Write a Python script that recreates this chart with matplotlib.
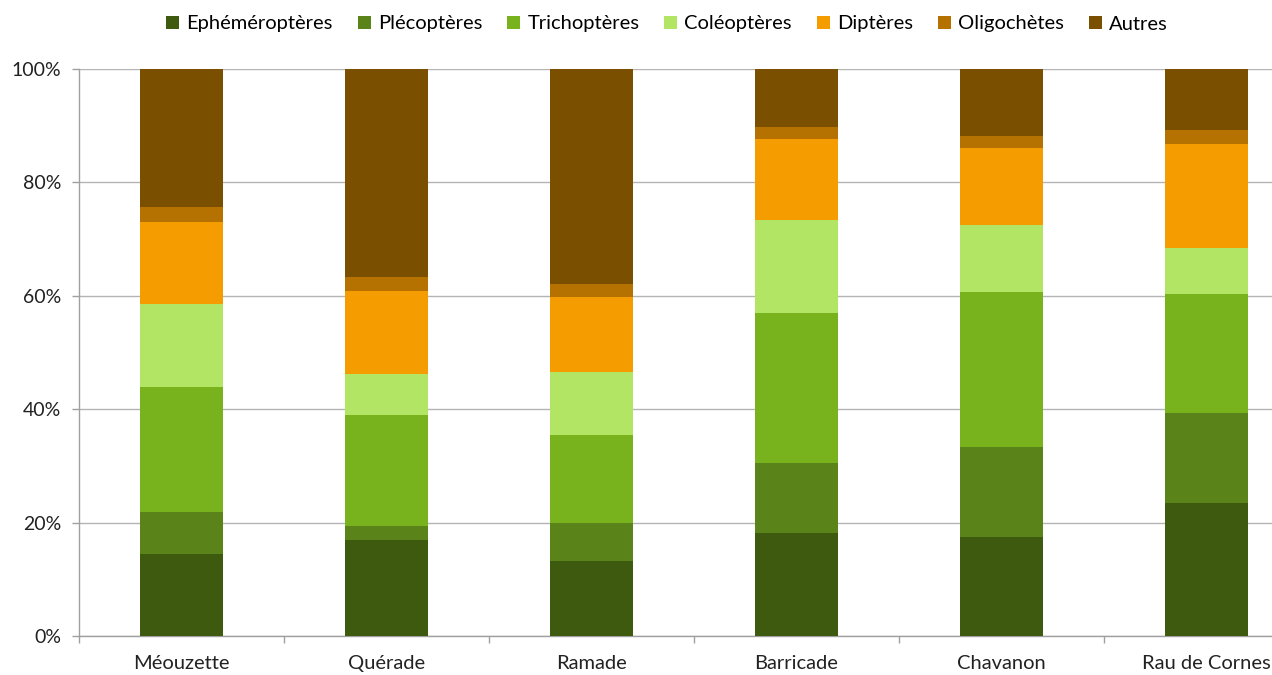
import matplotlib
matplotlib.use("Agg")
import matplotlib.pyplot as plt
import numpy as np

plt.rcParams['font.family'] = ['Lato', 'DejaVu Sans']

sites = ["Méouzette", "Quérade", "Ramade", "Barricade", "Chavanon", "Rau de Cornes"]
groups = ["Ephéméroptères", "Plécoptères", "Trichoptères", "Coléoptères",
          "Diptères", "Oligochètes", "Autres"]

# Share of each group per site (%)
ephemeropteres = [14.5, 17.0, 13.3, 18.2, 17.5, 23.5]
plecopteres    = [7.3, 2.4, 6.6, 12.3, 15.8, 15.9]
trichopteres   = [22.1, 19.5, 15.6, 26.5, 27.4, 21.0]
coleopteres    = [14.6, 7.3, 11.0, 16.3, 11.7, 8.0]
dipteres       = [14.5, 14.7, 13.3, 14.3, 13.7, 18.3]
oligochetes    = [2.6, 2.5, 2.2, 2.1, 2.0, 2.6]
autres         = [24.4, 36.6, 38.0, 10.3, 11.9, 10.7]

series = [ephemeropteres, plecopteres, trichopteres, coleopteres,
          dipteres, oligochetes, autres]
colors = ["#3d5a0f", "#5a8419", "#78b31e", "#b3e564", "#f59d00", "#b57200", "#7a4f00"]

fig = plt.figure(figsize=(12.72, 6.75), dpi=100)
ax = fig.add_axes([79 / 1272, 39 / 675, 1 - 79 / 1272, (636 - 69) / 675])

x = np.arange(len(sites))
bottom = np.zeros(len(sites))
for name, vals, col in zip(groups, series, colors):
    vals = np.array(vals, dtype=float)
    ax.bar(x, vals, 0.405, bottom=bottom, color=col, label=name, zorder=3)
    bottom += vals

ax.set_yticks(np.arange(0, 101, 20))
ax.set_yticklabels([f"{v}%" for v in range(0, 101, 20)])
ax.yaxis.grid(True, color="#b4b4b4", linewidth=1.0, zorder=0)

ax.set_xticks(x)
ax.set_xticklabels(sites)
ax.set_xticks(np.arange(-0.5, len(sites) - 1, 1.0), minor=True)
ax.tick_params(axis="x", which="major", length=0, pad=14, labelsize=14.5, colors="#222222")
ax.tick_params(axis="x", which="minor", length=5, color="#a0a0a0", width=1)
ax.tick_params(axis="y", length=5, color="#a0a0a0", width=1, labelsize=14,
               labelcolor="#222222", pad=8)

ax.set_ylim(0, 100)
ax.set_xlim(-0.5, (1272 - 79) / 205 - 0.5)

for side in ["top", "right"]:
    ax.spines[side].set_visible(False)
for side in ["left", "bottom"]:
    ax.spines[side].set_color("#a0a0a0")
    ax.spines[side].set_linewidth(1.0)

handles, labels = ax.get_legend_handles_labels()
fig.legend(handles, labels, loc="center", bbox_to_anchor=(667 / 1272, 1 - 24 / 675),
           ncol=7, frameon=False, fontsize=14.5, handlelength=0.65, handleheight=0.65,
           handletextpad=0.35, columnspacing=1.24)

fig.savefig("out.png", dpi=100)
